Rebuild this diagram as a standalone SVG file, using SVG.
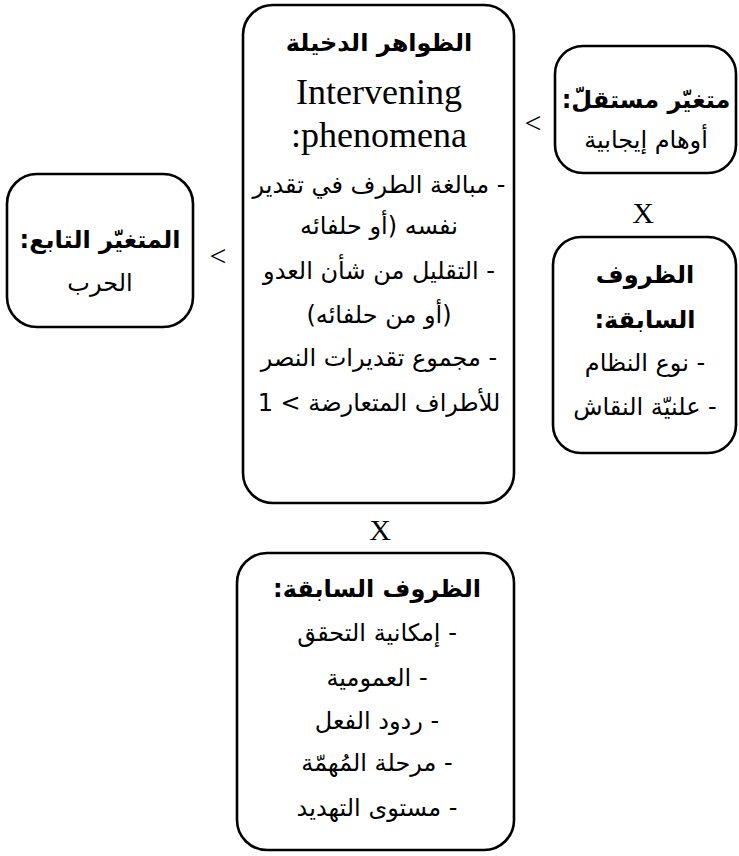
<svg xmlns="http://www.w3.org/2000/svg" width="739" height="856" viewBox="0 0 739 856">
<style>
.box{fill:#fff;stroke:#000;stroke-width:2.6}
.ar{font-family:"DejaVu Sans",sans-serif;font-size:24px;text-anchor:middle;fill:#000}
.b{font-weight:bold}
.lat{font-family:"Liberation Serif",serif;font-size:36px;text-anchor:middle;fill:#000}
.sym{font-family:"Liberation Serif",serif;font-size:30px;text-anchor:middle;fill:#000}
</style>
<rect width="739" height="856" fill="#fff"/>
<g id="connectors">
<text class="sym" x="533" y="133">&lt;</text>
<text class="sym" x="643" y="223">X</text>
<text class="sym" x="218" y="266">&lt;</text>
<text class="sym" x="380" y="540">X</text>
</g>
<g id="intervening">
<rect class="box" x="243" y="5" width="271" height="498" rx="30"/>
<text class="ar b" x="379" y="51" direction="rtl">الظواهر الدخيلة</text>
<text class="lat" x="379" y="104">Intervening</text>
<text class="lat" x="379" y="147">:phenomena</text>
<text class="ar" x="379" y="193" direction="rtl">- مبالغة الطرف في تقدير</text>
<text class="ar" x="379" y="234" direction="rtl">نفسه (أو حلفائه</text>
<text class="ar" x="379" y="279" direction="rtl">- التقليل من شأن العدو</text>
<text class="ar" x="379" y="323" direction="rtl">(أو من حلفائه)</text>
<text class="ar" x="379" y="366" direction="rtl">- مجموع تقديرات النصر</text>
<text class="ar" x="379" y="411" direction="rtl">للأطراف المتعارضة &gt; 1</text>
</g>
<g id="independent">
<rect class="box" x="555" y="46" width="181" height="127" rx="28"/>
<text class="ar b" x="646" y="108" direction="rtl">متغيّر مستقلّ:</text>
<text class="ar" x="646" y="148" direction="rtl">أوهام إيجابية</text>
</g>
<g id="antecedent-right">
<rect class="box" x="553" y="237" width="183" height="216" rx="28"/>
<text class="ar b" x="645" y="283" direction="rtl">الظروف</text>
<text class="ar b" x="645" y="328" direction="rtl">السابقة:</text>
<text class="ar" x="645" y="371" direction="rtl">- نوع النظام</text>
<text class="ar" x="645" y="415" direction="rtl">- علنيّة النقاش</text>
</g>
<g id="dependent">
<rect class="box" x="7" y="174" width="186" height="153" rx="30"/>
<text class="ar b" x="100" y="248" direction="rtl">المتغيّر التابع:</text>
<text class="ar" x="100" y="291" direction="rtl">الحرب</text>
</g>
<g id="antecedent-bottom">
<rect class="box" x="237" y="553" width="277" height="297" rx="30"/>
<text class="ar b" x="377" y="597" direction="rtl">الظروف السابقة:</text>
<text class="ar" x="377" y="641" direction="rtl">- إمكانية التحقق</text>
<text class="ar" x="377" y="686" direction="rtl">- العمومية</text>
<text class="ar" x="377" y="729" direction="rtl">- ردود الفعل</text>
<text class="ar" x="377" y="771" direction="rtl">- مرحلة المُهمّة</text>
<text class="ar" x="377" y="816" direction="rtl">- مستوى التهديد</text>
</g>
</svg>
